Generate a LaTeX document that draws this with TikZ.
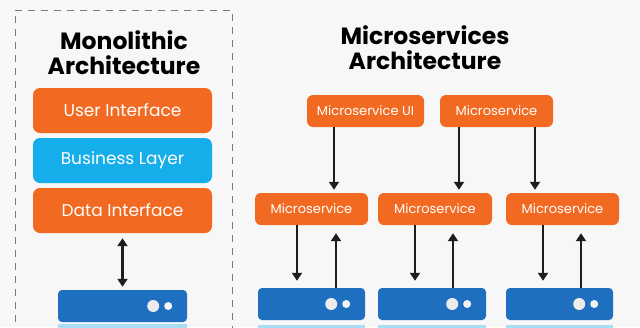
\documentclass[tikz,border=0pt]{standalone}
\usepackage{fontspec}
\setmainfont{Poppins}
\usetikzlibrary{arrows.meta,positioning,calc}
\definecolor{mcorange}{HTML}{F26A21}
\definecolor{mcsky}{HTML}{16AEEA}
\definecolor{mcserver}{HTML}{1F6FC0}
\definecolor{mcpale}{HTML}{A9DDF6}
\definecolor{mcink}{HTML}{1E1E1E}
\definecolor{mcframe}{HTML}{7A7A7A}
\definecolor{mcbg}{HTML}{F7F7F8}
\tikzset{
  layer/.style={fill=#1,rounded corners=7pt,text=white,font=\fontsize{17}{20}\selectfont,
                minimum width=179pt,minimum height=45pt,inner sep=0pt},
  svcbox/.style={fill=mcorange,rounded corners=6pt,text=white,font=\fontsize{13}{15}\selectfont,
                minimum height=32pt,inner sep=0pt},
  server/.style={fill=mcserver,rounded corners=4pt,minimum height=32pt,inner sep=0pt},
  ttl/.style={font=\bfseries\fontsize{23.5}{25}\selectfont,text=black,align=center},
  flow/.style={-{Triangle[length=8pt,width=10pt]},line width=2.2pt,draw=mcink},
  biflow/.style={{Triangle[length=8pt,width=10pt]}-{Triangle[length=8pt,width=10pt]},line width=2.2pt,draw=mcink},
}
\newcommand{\srvdots}[1]{%
  \fill[white!85!gray] ([xshift=-34pt]#1.east) circle (6pt);
  \fill[white!92!gray] ([xshift=-19pt]#1.east) circle (4pt);}
\begin{document}
\begin{tikzpicture}[x=1pt,y=-1pt]
  \fill[mcbg] (0,0) rectangle (640,327);
  \useasboundingbox (0,0) rectangle (640,327);

  % ---- monolithic side ----
  \draw[mcframe,line width=1pt,dash pattern=on 7pt off 6pt] (15,335) -- (15,10) -- (232,10) -- (232,335);
  \node[ttl] (montitle) at (124,53) {Monolithic\\Architecture};
  \node[layer=mcorange] (ui) at (122.5,110.5) {User Interface};
  \node[layer=mcsky]    (bl) at (122.5,160.5) {Business Layer};
  \node[layer=mcorange] (di) at (122.5,210.5) {Data Interface};
  \node[server,minimum width=129pt] (sv0) at (122.5,306) {};
  \srvdots{sv0}
  \fill[mcpale] (58,324) rectangle (187,330);
  \draw[biflow,shorten <=5pt,shorten >=3pt] (di.south) -- (sv0.north);

  % ---- microservices side ----
  \node[ttl] (mstitle) at (425,48) {Microservices\\Architecture};
  \node[svcbox,minimum width=117pt] (msui)  at (365.5,111) {Microservice UI};
  \node[svcbox,minimum width=113pt] (mstop) at (496.5,111) {Microservice};
  \node[svcbox,minimum width=113pt] (ms1) at (311.5,209) {Microservice};
  \node[svcbox,minimum width=114pt] (ms2) at (435,209)   {Microservice};
  \node[svcbox,minimum width=113pt] (ms3) at (562.5,209) {Microservice};
  \node[server,minimum width=107pt] (sv1) at (311.5,304) {};
  \node[server,minimum width=108pt] (sv2) at (432,304)   {};
  \node[server,minimum width=107pt] (sv3) at (559.5,304) {};
  \foreach \s in {sv1,sv2,sv3}{\srvdots{\s}}
  \fill[mcpale] (258,325) rectangle (365,330);
  \fill[mcpale] (378,325) rectangle (486,330);
  \fill[mcpale] (506,325) rectangle (613,330);

  % top arrows
  \coordinate (t1) at ([xshift=-31.5pt]msui.south);
  \coordinate (t2) at ([xshift=-37.5pt]mstop.south);
  \coordinate (t3) at ([xshift=38.5pt]mstop.south);
  \draw[flow,shorten >=3pt] (t1) -- (t1 |- ms1.north);
  \draw[flow,shorten >=3pt] (t2) -- (t2 |- ms2.north);
  \draw[flow,shorten >=3pt] (t3) -- (t3 |- ms3.north);

  % service <-> server arrows
  \foreach \i/\dx/\ux in {1/-14.5/24.5,2/-20/18,3/-19.5/18.5}{
    \coordinate (d\i) at ([xshift=\dx pt]ms\i.south);
    \coordinate (u\i) at ([xshift=\ux pt]ms\i.south);
    \draw[flow,shorten >=7pt] (d\i) -- (d\i |- sv\i.north);
    \draw[flow,shorten >=8pt] (u\i |- sv\i.north) -- (u\i);
  }
\end{tikzpicture}
\end{document}
